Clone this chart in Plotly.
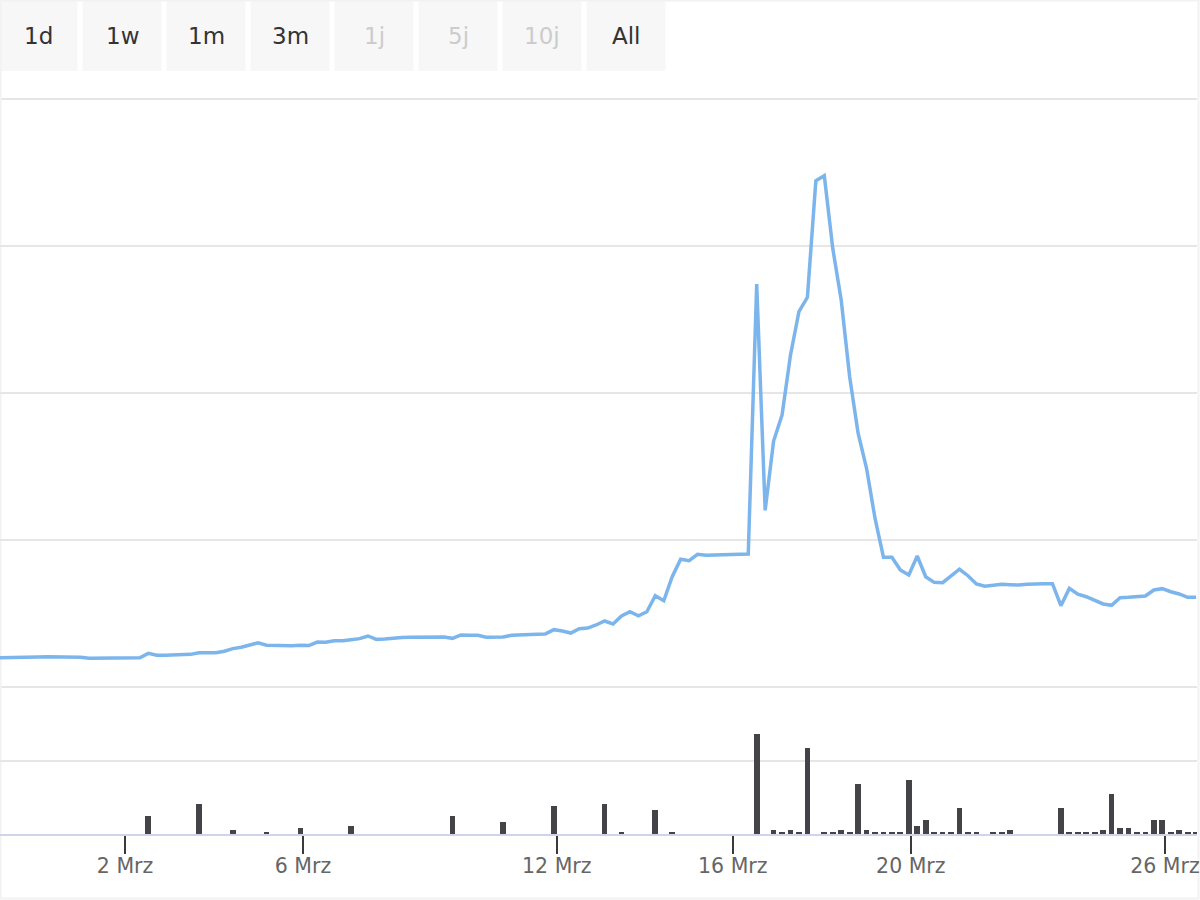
import plotly.graph_objects as go

# ---------------- data ----------------
PRICE = [
    1.99, 1.99, 1.99, 2.01, 2.02, 2.04, 2.05, 2.05, 2.04, 2.04,
    2.02, 1.95, 1.95, 1.99, 1.99, 1.99, 1.99, 1.99, 2.29, 2.16,
    2.16, 2.18, 2.20, 2.22, 2.33, 2.33, 2.33, 2.43, 2.61, 2.70,
    2.86, 3.01, 2.84, 2.82, 2.81, 2.81, 2.84, 2.82, 3.06, 3.04,
    3.15, 3.15, 3.22, 3.29, 3.47, 3.24, 3.27, 3.33, 3.37, 3.38,
    3.38, 3.39, 3.40, 3.40, 3.31, 3.54, 3.52, 3.52, 3.38, 3.38,
    3.40, 3.52, 3.56, 3.57, 3.59, 3.61, 3.90, 3.81, 3.67, 3.97,
    4.01, 4.22, 4.49, 4.29, 4.83, 5.12, 4.85, 5.12, 6.21, 5.87,
    7.50, 8.69, 8.59, 9.03, 8.96, 8.98, 9.00, 9.05, 9.05, 9.05,
    27.41, 12.02, 16.73, 18.50, 22.59, 25.53, 26.51, 34.44, 34.78, 29.84,
    26.33, 21.11, 17.26, 14.88, 11.48, 8.82, 8.82, 7.96, 7.62, 8.91,
    7.50, 7.12, 7.10, 7.57, 8.01, 7.57, 7.01, 6.85, 6.94, 6.99,
    6.96, 6.94, 6.99, 7.03, 7.03, 7.03, 5.53, 6.71, 6.31, 6.14,
    5.87, 5.65, 5.56, 6.07, 6.10, 6.14, 6.19, 6.60, 6.69, 6.48,
    6.33, 6.10, 6.10,
]

VOLUME_INDEX = [
    18, 24, 28, 32, 36, 42, 54, 60, 66, 72, 74, 78, 80,
    90, 92, 93, 94, 95, 96, 98, 99, 100, 101, 102, 103, 104, 105, 106, 107,
    108, 109, 110, 111, 112, 113, 114, 115, 116, 118, 119, 120,
    126, 127, 128, 129, 130, 131, 132, 133, 134, 135, 136, 137, 138, 139,
    140, 141, 142,
]
VOLUME = [
    24, 41, 5, 3, 8, 11, 24, 16, 38, 41, 3, 33, 3,
    136, 5, 3, 5, 3, 117, 3, 3, 5, 3, 68, 5, 3, 3, 3, 3,
    73, 11, 19, 3, 3, 3, 35, 3, 3, 3, 3, 5,
    35, 3, 3, 3, 3, 5, 54, 8, 8, 3, 3, 19, 19, 3,
    5, 3, 3,
]

TICK_LABELS = ["2 Mrz", "6 Mrz", "12 Mrz", "16 Mrz", "20 Mrz", "26 Mrz"]
TICK_POS = [15.25, 36.31, 66.34, 87.17, 108.24, 138.31]

BUTTONS = ["1d", "1w", "1m", "3m", "1j", "5j", "10j", "All"]
BUTTON_ENABLED = [True, True, True, True, False, False, False, True]

# ---------------- figure ----------------
W, H = 1200, 900
MR = 3
PW = W - MR  # paper width in px

PRICE_TOP, PRICE_BOTTOM = 99, 687
VOL_TOP, VOL_BOTTOM = 687, 834

x_idx = list(range(len(PRICE)))

fig = go.Figure()
fig.add_trace(go.Scatter(
    x=x_idx, y=PRICE, mode="lines",
    line=dict(color="#7cb5ec", width=3.5),
    xaxis="x", yaxis="y", hoverinfo="skip", showlegend=False,
))
fig.add_trace(go.Bar(
    x=VOLUME_INDEX, y=VOLUME, width=0.68,
    marker=dict(color="#434348", line=dict(width=0)),
    xaxis="x", yaxis="y2", hoverinfo="skip", showlegend=False,
))

def py(p):
    return 1 - p / H

def px(p):
    return p / PW

shapes = []
annotations = []
for i, (lab, en) in enumerate(zip(BUTTONS, BUTTON_ENABLED)):
    x0 = 84 * i - 1.5
    x1 = x0 + 79
    shapes.append(dict(
        type="rect", xref="paper", yref="paper",
        x0=px(x0), x1=px(x1), y0=py(71), y1=py(0),
        fillcolor="#f7f7f8", line=dict(width=0), layer="below",
    ))
    annotations.append(dict(
        xref="paper", yref="paper", x=px((x0 + x1) / 2), y=py(36),
        text=lab, showarrow=False, xanchor="center", yanchor="middle",
        font=dict(family="DejaVu Sans", size=23,
                  color="#333333" if en else "#cccccc"),
    ))

# edge grid lines (top of price pane, boundary between panes)
for yy in (PRICE_TOP, PRICE_BOTTOM):
    shapes.append(dict(type="line", xref="paper", yref="paper",
                       x0=0, x1=1, y0=py(yy), y1=py(yy),
                       line=dict(color="#e6e6e6", width=2), layer="below"))

# faint container border
shapes.append(dict(type="rect", xref="paper", yref="paper",
                   x0=px(0.5), x1=px(W - 1.5), y0=py(H - 1.5), y1=py(0.5),
                   line=dict(color="#f2f2f2", width=2), fillcolor="rgba(0,0,0,0)",
                   layer="below"))

fig.update_layout(
    width=W, height=H,
    margin=dict(l=0, r=MR, t=0, b=0, pad=0),
    paper_bgcolor="white", plot_bgcolor="white",
    font=dict(family="DejaVu Sans", color="#666666"),
    bargap=0,
    showlegend=False,
    shapes=shapes,
    annotations=annotations,
    xaxis=dict(
        domain=[0, 1], anchor="y2",
        range=[0.45, 142.107],
        tickmode="array", tickvals=TICK_POS, ticktext=TICK_LABELS,
        ticks="outside", ticklen=18, tickwidth=2, tickcolor="#3a3a3a",
        ticklabelstandoff=-6, ticklabeloverflow="allow",
        showline=True, linecolor="#ccd6eb", linewidth=2,
        showgrid=False, zeroline=False,
        tickfont=dict(family="DejaVu Sans", size=20.5, color="#666666"),
        fixedrange=True,
    ),
    yaxis=dict(
        domain=[1 - PRICE_BOTTOM / H, 1 - PRICE_TOP / H],
        range=[0, 40], dtick=10, tick0=0,
        showgrid=True, gridcolor="#e6e6e6", gridwidth=2,
        showticklabels=False, zeroline=False, showline=False,
        fixedrange=True,
    ),
    yaxis2=dict(
        domain=[1 - VOL_BOTTOM / H, 1 - VOL_TOP / H],
        range=[0, 200], dtick=100, tick0=0,
        showgrid=True, gridcolor="#e6e6e6", gridwidth=2,
        showticklabels=False, zeroline=False, showline=False,
        fixedrange=True,
    ),
)

fig.write_html(
    "out.html",
    config={"displayModeBar": False},
    post_script="document.body.style.margin='0';document.body.style.overflow='hidden';",
)
